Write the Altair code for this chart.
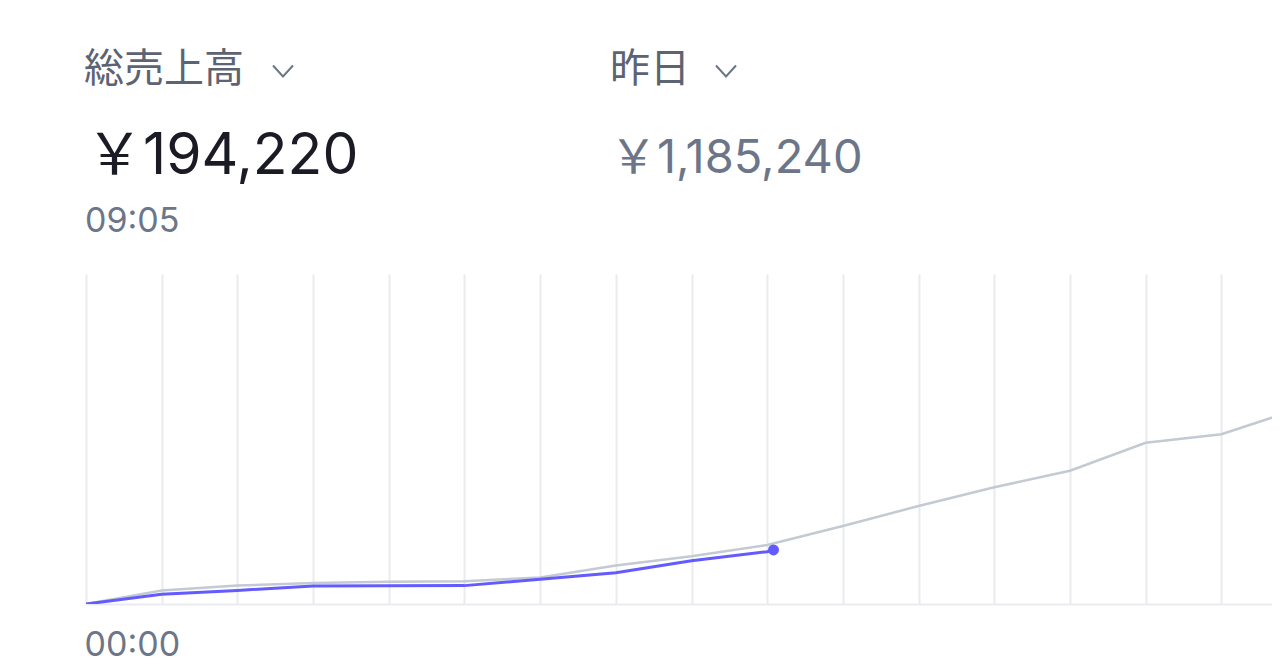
import altair as alt
import pandas as pd

# ---- data ----
hours = list(range(17))
yesterday = [0, 48500, 66400, 75400, 80100, 81900, 95200, 138300, 171300,
             211900, 280100, 352000, 419100, 478800, 579300, 609500, 698900]
today_hours = [0, 1, 2, 3, 4, 5, 6, 7, 8, 9, 9.083]
today = [0, 34800, 48500, 65000, 65500, 66000, 88700, 112400, 155500,
         187800, 194220]
yesterday_total = 1185240
grid_hours = list(range(16))

metric_title = "総売上高"
compare_title = "昨日"
metric_value = "￥194,220"
compare_value = "￥1,185,240"
metric_time = "09:05"
first_tick = "00:00"

FONT = "Inter, 'Noto Sans CJK JP', sans-serif"
GRID = "#e9ebef"
MUTED = "#6c7688"

yd = pd.DataFrame({"hour": hours, "value": yesterday})
td = pd.DataFrame({"hour": today_hours, "value": today})
last = td.tail(1)

xs = alt.Scale(domain=[0, 15.669], nice=False, zero=False)
ys = alt.Scale(domain=[0, yesterday_total], nice=False)

xaxis = alt.Axis(
    values=grid_hours, grid=True, gridColor=GRID, gridWidth=2,
    domainColor=GRID, domainWidth=2, ticks=False, tickSize=0,
    labelExpr=f"datum.value == 0 ? '{first_tick}' : ''",
    labelAlign="left", labelBaseline="alphabetic", labelPadding=51,
    labelOffset=-2,
    labelFont=FONT, labelFontSize=34, labelColor=MUTED, title=None,
    labelOverlap=False, labelFlush=False,
)

gray = alt.Chart(yd).mark_line(color="#c3cad3", strokeWidth=2.5, clip=True).encode(
    x=alt.X("hour:Q", scale=xs, axis=xaxis),
    y=alt.Y("value:Q", scale=ys, axis=None),
)
blue = alt.Chart(td).mark_line(color="#635bff", strokeWidth=3, clip=True).encode(
    x=alt.X("hour:Q", scale=xs),
    y=alt.Y("value:Q", scale=ys, axis=None),
)
dot = alt.Chart(last).mark_point(filled=True, color="#635bff", size=120, opacity=1).encode(
    x=alt.X("hour:Q", scale=xs),
    y=alt.Y("value:Q", scale=ys, axis=None),
)


def label(text, x, y, size, color):
    return alt.Chart(pd.DataFrame({"t": [text]})).mark_text(
        align="left", baseline="alphabetic", font=FONT, fontSize=size,
        color=color, fontWeight=400,
    ).encode(text="t:N", x=alt.value(x), y=alt.value(y))


def chevron(x, y):
    return alt.Chart(pd.DataFrame({"c": [0]})).mark_point(
        shape="M-1,-0.55L0,0.55L1,-0.55", filled=False, color=MUTED,
        strokeWidth=2, size=400, opacity=1,
    ).encode(x=alt.value(x), y=alt.value(y))


layers = [
    gray, blue, dot,
    label(metric_title, -2, -192, 40, "#5c6373"),
    chevron(197, -203),
    label(compare_title, 524, -192, 40, "#5c6373"),
    chevron(640, -203),
    label(metric_value, 0, -100, 57, "#1a1b25"),
    label(compare_value, 524, -101, 47, MUTED),
    label(metric_time, -1, -42, 34, MUTED),
]

chart = alt.layer(*layers).properties(
    width=1186, height=330,
    autosize=alt.AutoSizeParams(type="none"),
    padding={"left": 78, "top": 266, "right": 0, "bottom": 59},
    background="white",
).configure_view(strokeWidth=0)

chart.save("out.html", embed_options={"renderer": "svg", "actions": False})
